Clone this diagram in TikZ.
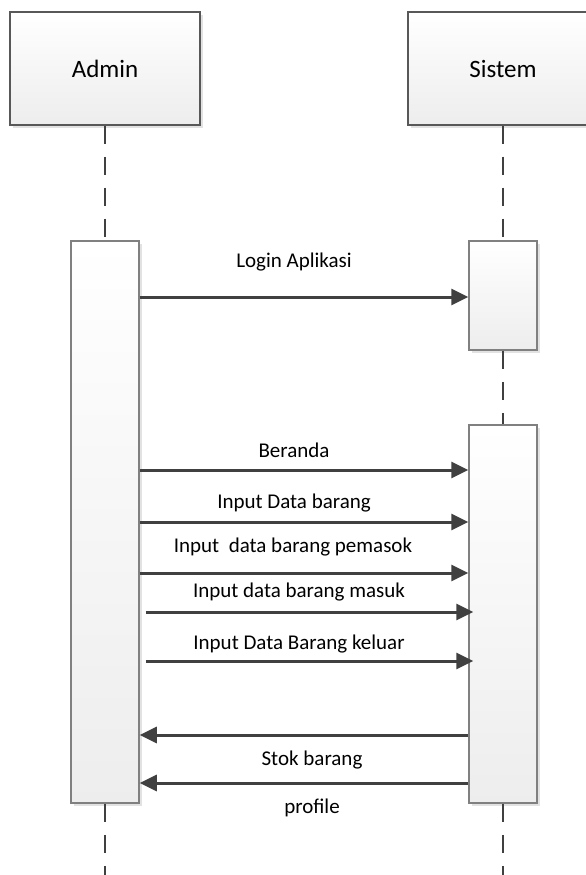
\documentclass[tikz,border=0pt]{standalone}
\usepackage{fontspec}
\setmainfont{Carlito}
\usetikzlibrary{positioning,calc}
\usetikzlibrary{arrows.meta,shadows}
\definecolor{garis}{RGB}{64,64,64}
\definecolor{tepi}{RGB}{88,88,88}
\definecolor{tepiakt}{RGB}{128,128,128}
\definecolor{bayang}{RGB}{226,226,226}

\tikzset{
  aktor/.style={draw=tepi, line width=1.3pt, top color=white, bottom color=black!7,
    minimum width=190pt, minimum height=113pt, inner sep=0pt,
    font=\fontsize{25}{30}\selectfont,
    drop shadow={shadow xshift=3pt, shadow yshift=-3pt, fill=bayang, opacity=1}},
  aktif/.style={draw=tepiakt, line width=1.5pt, top color=white, bottom color=black!7,
    minimum width=68pt, inner sep=0pt,
    drop shadow={shadow xshift=3pt, shadow yshift=-3pt, fill=bayang, opacity=1}},
  hidup/.style={draw=garis, line width=2.5pt, dash pattern=on 18pt off 13pt},
  pesan/.style={draw=garis, line width=3pt, -{Triangle[length=17pt,width=16pt]}},
  label/.style={anchor=base, inner sep=0pt, font=\fontsize{21}{25}\selectfont}
}

\begin{document}
\begin{tikzpicture}[x=1pt, y=-1pt]
      \useasboundingbox (0,0) rectangle (586,875);
      \clip (0,0) rectangle (586,875);

      % kepala lifeline
      \node[aktor] (admin) at (105,68.5) {Admin};
      \node[aktor] (sistem) at (503,68.5) {Sistem};

      % kotak aktivasi
      \node[aktif, minimum height=562pt] (aktA) at (105,522) {};
      \node[aktif, minimum height=109pt] (aktS1) at (503,295.5) {};
      \node[aktif, minimum height=378pt] (aktS2) at (503,614) {};

      \coordinate (ujungA) at (105,880);
      \coordinate (ujungS) at (503,880);

      % garis hidup
      \draw[hidup] (admin.south) -- (aktA.north);
      \draw[hidup] (aktA.south) -- (ujungA);
      \draw[hidup] (sistem.south) -- (aktS1.north);
      \draw[hidup] (aktS1.south) -- (aktS2.north);
      \draw[hidup] (aktS2.south) -- (ujungS);

      % posisi pesan
      \coordinate (p1) at (0,297);
      \coordinate (p2) at (0,470);
      \coordinate (p3) at (0,522);
      \coordinate (p4) at (0,573);
      \coordinate (p5) at (0,612);
      \coordinate (p6) at (0,661);
      \coordinate (p7) at (0,735);
      \coordinate (p8) at (0,783);

      \draw[pesan] (aktA.east |- p1) -- (aktS1.west |- p1);
      \node[label] (login) at (294,267) {Login Aplikasi};

      \draw[pesan] (aktA.east |- p2) -- (aktS2.west |- p2);
      \node[label] (beranda) at (294,457) {Beranda};

      \draw[pesan] (aktA.east |- p3) -- (aktS2.west |- p3);
      \node[label] (databrg) at (294,508) {Input Data barang};

      \draw[pesan] (aktA.east |- p4) -- (aktS2.west |- p4);
      \node[label] (pemasok) at (293,552) {Input\ \ data barang pemasok};

      \draw[pesan] ($(aktA.east |- p5)+(6,0)$) -- ($(aktS2.west |- p5)+(5,0)$);
      \node[label] (masuk) at (299,597) {Input data barang masuk};

      \draw[pesan] ($(aktA.east |- p6)+(6,0)$) -- ($(aktS2.west |- p6)+(5,0)$);
      \node[label] (keluar) at (299,649) {Input Data Barang keluar};

      \draw[pesan] (aktS2.west |- p7) -- (aktA.east |- p7);
      \node[label] (stok) at (312,765) {Stok barang};

      \draw[pesan] (aktS2.west |- p8) -- (aktA.east |- p8);
      \node[label] (profil) at (312,813) {profile};

    \end{tikzpicture}
\end{document}
